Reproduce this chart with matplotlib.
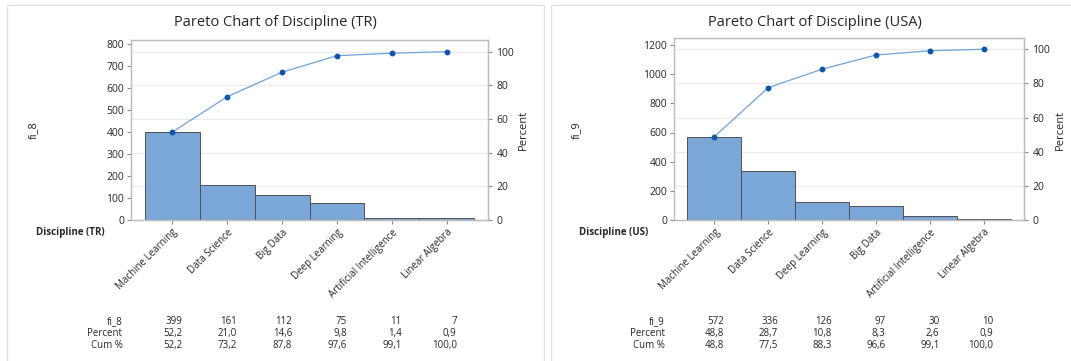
import matplotlib
matplotlib.use("Agg")
import matplotlib.pyplot as plt
from matplotlib.patches import Rectangle
import matplotlib.transforms as mtransforms
import numpy as np

plt.rcParams['font.family'] = ['Open Sans', 'DejaVu Sans']

# ---------------- data ----------------
cats_tr = ["Machine Learning", "Data Science", "Big Data", "Deep Learning",
           "Artificial Intelligence", "Linear Algebra"]
counts_tr = [399, 161, 112, 75, 11, 7]
pct_tr = [52.2, 21.0, 14.6, 9.8, 1.4, 0.9]
cum_tr = [52.2, 73.2, 87.8, 97.6, 99.1, 100.0]

cats_us = ["Machine Learning", "Data Science", "Deep Learning", "Big Data",
           "Artificial Intelligence", "Linear Algebra"]
counts_us = [572, 336, 126, 97, 30, 10]
pct_us = [48.8, 28.7, 10.8, 8.3, 2.6, 0.9]
cum_us = [48.8, 77.5, 88.3, 96.6, 99.1, 100.0]

left_ticks_tr = [0, 100, 200, 300, 400, 500, 600, 700, 800]
left_ticks_us = [0, 200, 400, 600, 800, 1000, 1200]
pct_ticks = [0, 20, 40, 60, 80, 100]

W, H = 1071, 361
fig = plt.figure(figsize=(W / 100, H / 100), dpi=100)
fig.patch.set_facecolor("white")

BAR = "#7BA6D8"
EDGE = "#505050"
LINE = "#6FA2DA"
MARK = "#0B56A8"
SPINE = "#BDBDBD"
GRID = "#EBEBEB"
TXT = "#262626"


def px(x, y):
    return x / W, 1 - y / H


def fmt(v):
    return f"{v:.1f}".replace(".", ",")


def panel(frame, axbox, title, title_x, cats, counts, pct, cum, lticks,
          ytop, ylab, ylab_x, pct_x, xlabel, xlabel_x, lab_right):
    # panel frame
    fx0, fx1 = frame
    fig.patches.append(Rectangle(px(fx0, 370), (fx1 - fx0) / W, (370 - 5) / H,
                                 transform=fig.transFigure, fill=False,
                                 edgecolor="#E2E2E2", linewidth=1.0))
    x0, y0, x1, y1 = axbox
    ax = fig.add_axes([x0 / W, 1 - y1 / H, (x1 - x0) / W, (y1 - y0) / H])
    total = sum(counts)
    n = len(cats)
    xs = np.arange(n)
    # grid lines at percent ticks, in count units
    for p in pct_ticks[1:]:
        ax.axhline(p * total / 100, color=GRID, lw=0.9, zorder=0)
    ax.bar(xs, counts, width=1.0, color=BAR, edgecolor=EDGE, linewidth=0.7,
           zorder=2)
    ax.set_xlim(-0.75, n - 0.25)
    ax.set_ylim(0, ytop)
    ax.set_yticks(lticks)
    ax.set_xticks(xs)
    ax.set_xticklabels(cats, rotation=45, ha="right", rotation_mode="anchor",
                       fontsize=7, color=TXT)
    ax.tick_params(axis="x", length=3, color="#8A8A8A", pad=2)
    ax.tick_params(axis="y", length=3, color="#8A8A8A", labelsize=7.5,
                   labelcolor=TXT, pad=2)
    for s in ax.spines.values():
        s.set_color(SPINE)
        s.set_linewidth(0.9)

    ax2 = ax.twinx()
    ax2.set_ylim(0, ytop / total * 100)
    ax2.set_yticks(pct_ticks)
    ax2.tick_params(axis="y", length=3, color="#8A8A8A", labelsize=7.5,
                    labelcolor=TXT, pad=3)
    for s in ax2.spines.values():
        s.set_color(SPINE)
        s.set_linewidth(0.9)
    ax2.plot(xs, cum, color=LINE, lw=0.9, zorder=3)
    ax2.plot(xs, cum, "o", color=MARK, markersize=3.2, zorder=4)

    # texts
    fig.text(*px(title_x, 23), title, ha="center", va="center", fontsize=10.5,
             color=TXT)
    fig.text(*px(ylab_x, 130), ylab, ha="center", va="center", rotation=90,
             fontsize=8, color=TXT)
    fig.text(*px(pct_x, 130), "Percent", ha="center", va="center",
             rotation=90, fontsize=8, color=TXT)
    fig.text(*px(xlabel_x, 232), xlabel, ha="center", va="center",
             fontsize=7, fontweight="bold", color=TXT)

    # table
    rows_y = [322, 333.5, 345.5]
    row_labels = [ylab, "Percent", "Cum %"]
    row_vals = [[str(c) for c in counts], [fmt(v) for v in pct],
                [fmt(v) for v in cum]]
    trans = mtransforms.blended_transform_factory(ax.transData,
                                                  fig.transFigure)
    for yy, lab, vals in zip(rows_y, row_labels, row_vals):
        fig.text(*px(lab_right, yy), lab, ha="right", va="center",
                 fontsize=7, color=TXT)
        for i, v in enumerate(vals):
            ax.text(i + 0.18, 1 - yy / H, v, transform=trans, ha="right",
                    va="center", fontsize=7, color=TXT, clip_on=False)
    return ax


panel((7, 544), (131, 40, 488, 220), "Pareto Chart of Discipline (TR)", 275,
      cats_tr, counts_tr, pct_tr, cum_tr, left_ticks_tr, 818,
      "fi_8", 33, 523, "Discipline (TR)", 70, 122.5)

panel((551, 1085), (674, 38, 1024, 220), "Pareto Chart of Discipline (USA)",
      815, cats_us, counts_us, pct_us, cum_us, left_ticks_us, 1248,
      "fi_9", 576, 1060, "Discipline (US)", 614, 665)

fig.savefig("out.png", dpi=100, facecolor="white")
